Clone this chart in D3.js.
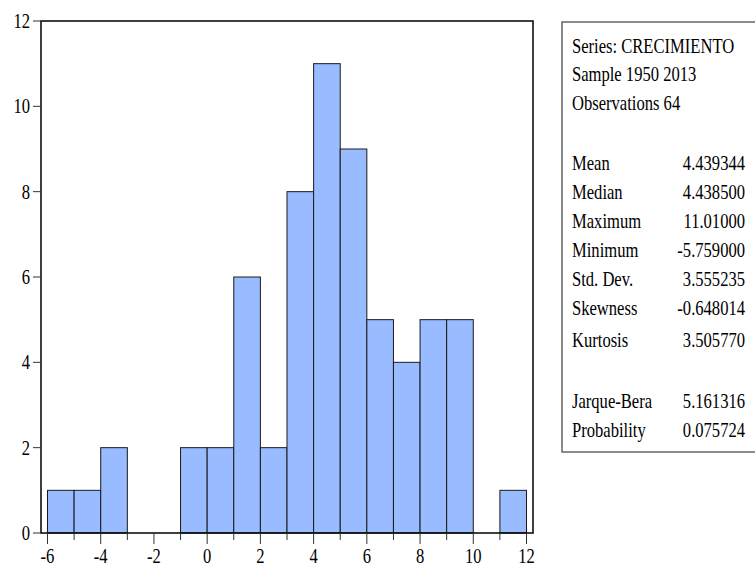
<!DOCTYPE html>
<html>
<head>
<meta charset="utf-8">
<script src="https://cdn.jsdelivr.net/npm/d3@7"></script>
<style>
  body { margin: 0; background: #fff; }
  svg { display: block; }
  text { font-family: "Liberation Serif", "Times New Roman", serif; fill: #000; }
</style>
</head>
<body>
<svg></svg>
<script>
//Histogram data (bins of width 1)
const binStarts = [-6, -5, -4, -3, -2, -1, 0, 1, 2, 3, 4, 5, 6, 7, 8, 9, 10, 11];
const counts = [1, 1, 2, 0, 0, 2, 2, 6, 2, 8, 11, 9, 5, 4, 5, 5, 0, 1];
const xTickLabels = [-6, -4, -2, 0, 2, 4, 6, 8, 10, 12];
const yTickLabels = [0, 2, 4, 6, 8, 10, 12];

//Stats panel
const headerLines = ["Series: CRECIMIENTO", "Sample 1950 2013", "Observations 64"];
const statNames = ["Mean", "Median", "Maximum", "Minimum", "Std. Dev.", "Skewness", "Kurtosis", "Jarque-Bera", "Probability"];
const statValues = ["4.439344", "4.438500", "11.01000", "-5.759000", "3.555235", "-0.648014", "3.505770", "5.161316", "0.075724"];

const w = 755;
const h = 567;
const plot = { left: 41, right: 533, top: 21, bottom: 533 };
const sx = 0.79; //condensed look of the original font
const fs = 21;

const svg = d3.select("svg").attr("width", w).attr("height", h);

const xScale = d3.scaleLinear()
                 .domain([-6.244, 12.244])
                 .range([plot.left, plot.right]);
const yScale = d3.scaleLinear()
                 .domain([0, 12])
                 .range([plot.bottom, plot.top]);

//Bars
svg.append("g")
   .selectAll("rect")
   .data(binStarts)
   .enter()
   .filter((d, i) => counts[i] > 0)
   .append("rect")
   .attr("x", (d) => xScale(d))
   .attr("y", (d) => yScale(counts[binStarts.indexOf(d)]))
   .attr("width", (d) => xScale(d + 1) - xScale(d))
   .attr("height", (d) => yScale(0) - yScale(counts[binStarts.indexOf(d)]))
   .attr("fill", "#99bbff")
   .attr("stroke", "#1a1a1a")
   .attr("stroke-width", 1);

//Frame (left, top, right, bottom)
svg.append("rect")
   .attr("x", plot.left)
   .attr("y", plot.top)
   .attr("width", plot.right - plot.left)
   .attr("height", plot.bottom - plot.top)
   .attr("fill", "none")
   .attr("stroke", "#000")
   .attr("stroke-width", 1.5);

//X ticks: every unit, labels every two
const xTicks = d3.range(-6, 13);
svg.append("g")
   .selectAll("line")
   .data(xTicks)
   .enter()
   .append("line")
   .attr("x1", (d) => xScale(d))
   .attr("x2", (d) => xScale(d))
   .attr("y1", plot.bottom)
   .attr("y2", (d) => plot.bottom + (d % 2 === 0 ? 11 : 7))
   .attr("stroke", "#333")
   .attr("stroke-width", 1);

svg.append("g")
   .selectAll("text")
   .data(xTickLabels)
   .enter()
   .append("text")
   .attr("transform", (d) => `translate(${xScale(d)}, 563) scale(${sx}, 1)`)
   .attr("text-anchor", "middle")
   .attr("font-size", fs)
   .text((d) => d);

//Y ticks
svg.append("g")
   .selectAll("line")
   .data(yTickLabels)
   .enter()
   .append("line")
   .attr("x1", plot.left - 8)
   .attr("x2", plot.left)
   .attr("y1", (d) => yScale(d))
   .attr("y2", (d) => yScale(d))
   .attr("stroke", "#333")
   .attr("stroke-width", 1);

svg.append("g")
   .selectAll("text")
   .data(yTickLabels)
   .enter()
   .append("text")
   .attr("transform", (d) => `translate(30, ${yScale(d) + 7}) scale(${sx}, 1)`)
   .attr("text-anchor", "end")
   .attr("font-size", fs)
   .text((d) => d);

//Stats box
const box = svg.append("g");
box.append("rect")
   .attr("x", 562)
   .attr("y", 22)
   .attr("width", 210)
   .attr("height", 430)
   .attr("fill", "none")
   .attr("stroke", "#666")
   .attr("stroke-width", 1.5);

const headerY = [46, 74, 103];
box.selectAll(".hdr")
   .data(headerLines)
   .enter()
   .append("text")
   .attr("transform", (d, i) => `translate(572, ${headerY[i] + 7}) scale(${sx}, 1)`)
   .attr("font-size", fs)
   .text((d) => d);

const statY = [163, 192, 221, 250, 279, 308, 340, 401, 430];
box.selectAll(".name")
   .data(statNames)
   .enter()
   .append("text")
   .attr("transform", (d, i) => `translate(572, ${statY[i] + 7}) scale(${sx}, 1)`)
   .attr("font-size", fs)
   .text((d) => d);

box.selectAll(".val")
   .data(statValues)
   .enter()
   .append("text")
   .attr("transform", (d, i) => `translate(745, ${statY[i] + 7}) scale(${sx}, 1)`)
   .attr("text-anchor", "end")
   .attr("font-size", fs)
   .text((d) => d);
</script>
</body>
</html>
